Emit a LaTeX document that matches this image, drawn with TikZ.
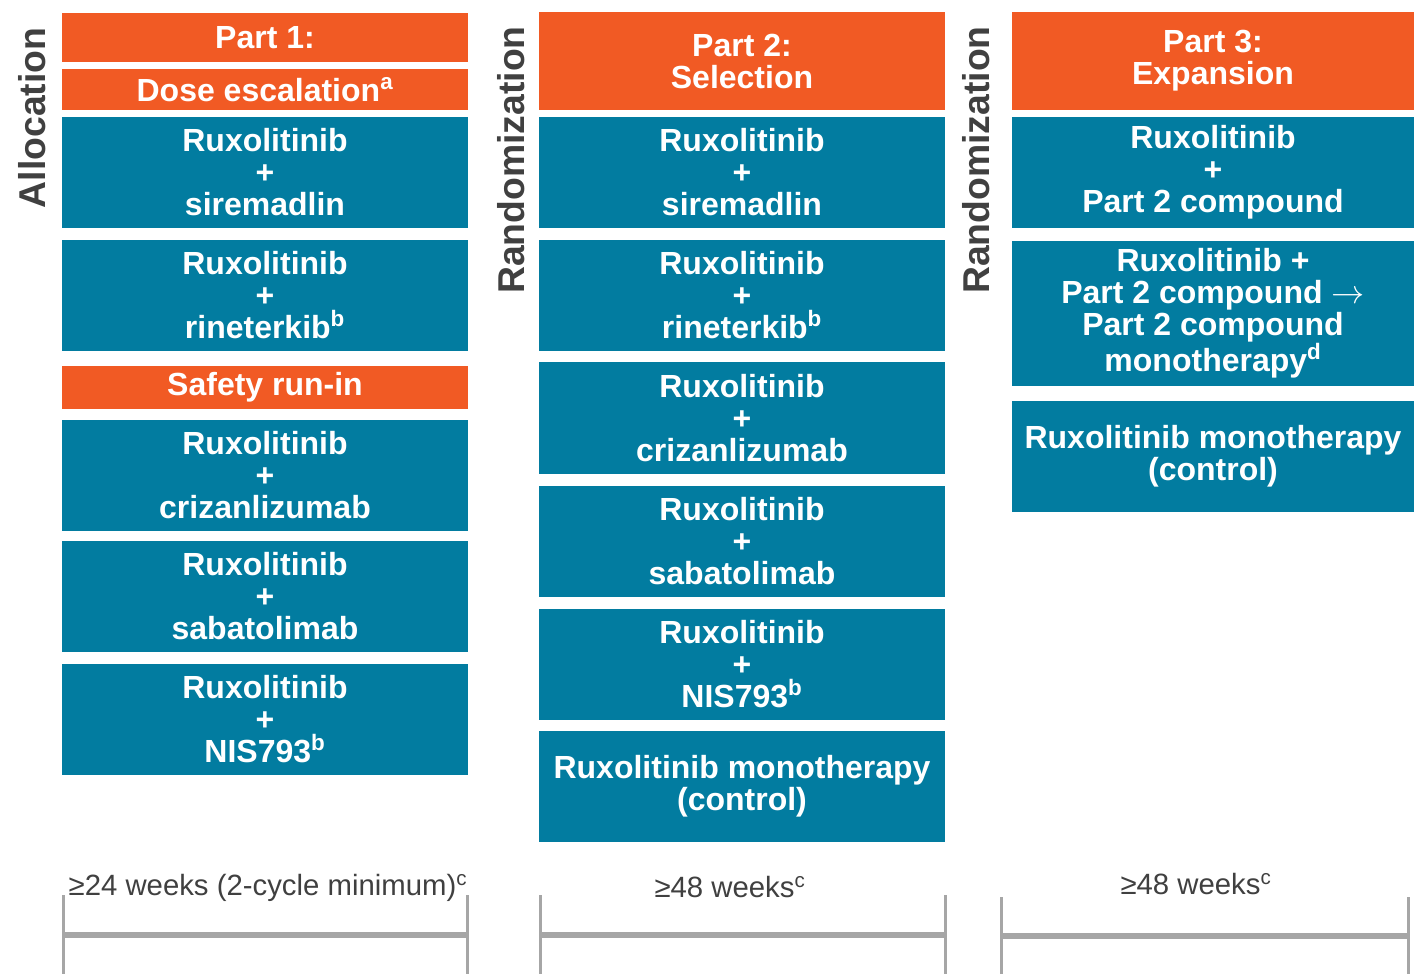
\documentclass[tikz,border=0pt]{standalone}
\usepackage{fontspec}
\setmainfont{Liberation Sans}
\definecolor{orng}{HTML}{F15A24}
\definecolor{tealb}{HTML}{027CA0}
\definecolor{dgray}{HTML}{404040}
\definecolor{lgray}{HTML}{A6A6A6}
\begin{document}
\begin{tikzpicture}[x=0.75pt,y=-0.75pt,
 base/.style={inner sep=0pt, align=center, text=white, font=\bfseries\fontsize{24}{24}\selectfont},
 obox/.style={base, fill=orng},
 tbox/.style={base, fill=tealb},
 cone/.style={minimum width=304.5pt},
 ctwo/.style={minimum width=304.5pt},
 cthree/.style={minimum width=301.5pt},
 rowh/.style={minimum height=83.25pt},
 sidelabel/.style={rotate=90, text=dgray, font=\bfseries\fontsize{28}{28}\selectfont, inner sep=0pt},
 dur/.style={text=dgray, font=\fontsize{22}{22}\selectfont, inner sep=0pt},
 brkv/.style={draw=lgray, line width=2.25pt},
 brkh/.style={draw=lgray, line width=4.5pt}]
\useasboundingbox (0,0) rectangle (1414,974);

% side labels
\node[sidelabel] (alloc) at (32,118) {Allocation};
\node[sidelabel] (rand1) at (511,160) {Randomization};
\node[sidelabel] (rand2) at (976,160) {Randomization};

% Column 1
\node[obox, cone, minimum height=36.75pt] (p1) at (265,37.5) {Part 1:};
\node[obox, cone, minimum height=30.75pt] (dose) at (265,89.5) {Dose escalation\textsuperscript{a}};
\node[tbox, cone, rowh] (a1) at (265,172.5) {Ruxolitinib\\+\\siremadlin};
\node[tbox, cone, rowh] (a2) at (265,295.5) {Ruxolitinib\\+\\rineterkib\textsuperscript{b}};
\node[obox, cone, minimum height=32.25pt] (safe) at (265,387.5) {Safety run-in};
\node[tbox, cone, rowh] (a3) at (265,475.5) {Ruxolitinib\\+\\crizanlizumab};
\node[tbox, cone, rowh] (a4) at (265,596.5) {Ruxolitinib\\+\\sabatolimab};
\node[tbox, cone, rowh] (a5) at (265,719.5) {Ruxolitinib\\+\\NIS793\textsuperscript{b}};

% Column 2
\node[obox, ctwo, minimum height=73.5pt] (p2) at (742,61) {Part 2:\\Selection};
\node[tbox, ctwo, rowh] (b1) at (742,172.5) {Ruxolitinib\\+\\siremadlin};
\node[tbox, ctwo, rowh] (b2) at (742,295.5) {Ruxolitinib\\+\\rineterkib\textsuperscript{b}};
\node[tbox, ctwo, minimum height=84pt] (b3) at (742,418) {Ruxolitinib\\+\\crizanlizumab};
\node[tbox, ctwo, rowh] (b4) at (742,541.5) {Ruxolitinib\\+\\sabatolimab};
\node[tbox, ctwo, rowh] (b5) at (742,664.5) {Ruxolitinib\\+\\NIS793\textsuperscript{b}};
\node[tbox, ctwo, rowh] (b6) at (742,786.5) {Ruxolitinib monotherapy\\(control)};

% Column 3
\node[obox, cthree, minimum height=73.5pt] (p3) at (1213,61) {Part 3:\\Expansion};
\node[tbox, cthree, rowh] (c1) at (1213,172.5) {Ruxolitinib\\+\\Part 2 compound};
\node[tbox, cthree, minimum height=108.75pt] (c2) at (1213,313.5) {Ruxolitinib +\\Part 2 compound {\mdseries$\rightarrow$}\\Part 2 compound\\monotherapy\textsuperscript{d}};
\node[tbox, cthree, rowh] (c3) at (1213,456.5) {Ruxolitinib monotherapy\\(control)};

% durations
\node[dur] (d1) at (268,888) {≥24 weeks (2-cycle minimum)\textsuperscript{c}};
\node[dur] (d2) at (730,887) {≥48 weeks\textsuperscript{c}};
\node[dur] (d3) at (1196,884) {≥48 weeks\textsuperscript{c}};

% brackets
\coordinate (l1t) at (63,895); \coordinate (l1b) at (63,974);
\coordinate (r1t) at (467,895); \coordinate (r1b) at (467,974);
\coordinate (l2t) at (540,895); \coordinate (l2b) at (540,974);
\coordinate (r2t) at (945,895); \coordinate (r2b) at (945,974);
\coordinate (l3t) at (1001,897); \coordinate (l3b) at (1001,974);
\coordinate (r3t) at (1408,897); \coordinate (r3b) at (1408,974);
\draw[brkv] (l1t) -- (l1b); \draw[brkv] (r1t) -- (r1b);
\draw[brkv] (l2t) -- (l2b); \draw[brkv] (r2t) -- (r2b);
\draw[brkv] (l3t) -- (l3b); \draw[brkv] (r3t) -- (r3b);
\draw[brkh] (63,935) -- (467,935);
\draw[brkh] (540,935) -- (945,935);
\draw[brkh] (1001,936) -- (1408,936);
\end{tikzpicture}
\end{document}
